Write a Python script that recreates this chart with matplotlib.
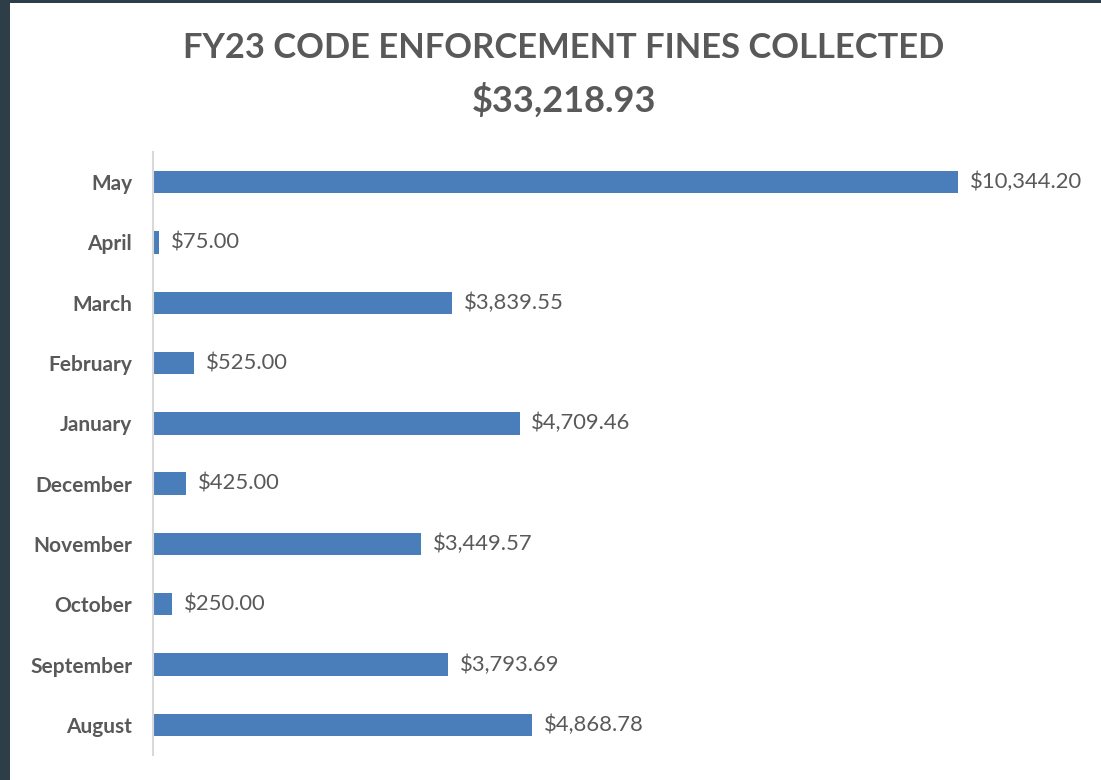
import matplotlib
matplotlib.use("Agg")
import matplotlib.pyplot as plt
from matplotlib.patches import Rectangle

months = ["May", "April", "March", "February", "January", "December",
          "November", "October", "September", "August"]
values = [10344.20, 75.00, 3839.55, 525.00, 4709.46, 425.00,
          3449.57, 250.00, 3793.69, 4868.78]
title_line1 = "FY23 CODE ENFORCEMENT FINES COLLECTED"
title_line2 = "$33,218.93"

W, H = 1101, 780
fig = plt.figure(figsize=(W / 100, H / 100), dpi=100)
fig.patch.set_facecolor("white")

# dark frame on left and top
fig.patches.append(Rectangle((0, 0), 10 / W, 1, transform=fig.transFigure,
                             facecolor="#2e3e48", edgecolor="none", zorder=0))
fig.patches.append(Rectangle((0, 1 - 3 / H), 1, 3 / H, transform=fig.transFigure,
                             facecolor="#2e3e48", edgecolor="none", zorder=0))

left, right = 153, 1087
top, bottom = 152, 755
ax = fig.add_axes([left / W, 1 - bottom / H, (right - left) / W, (bottom - top) / H])
ax.set_facecolor("none")

n = len(months)
ypos = list(range(n))
ax.barh(ypos, values, height=0.37, color="#4a7ebb", zorder=2)
ax.set_ylim(n - 0.5, -0.5)
ax.set_xlim(0, 12000)

grey = "#595959"
ax.set_yticks(ypos)
ax.set_yticklabels(months, fontfamily="Lato", fontweight="bold", fontsize=15, color=grey)
ax.tick_params(axis="y", length=0, pad=15)
ax.set_xticks([])
for s in ["top", "right", "bottom"]:
    ax.spines[s].set_visible(False)
ax.spines["left"].set_color("#d9d9d9")
ax.spines["left"].set_linewidth(1.5)

for y, v in zip(ypos, values):
    ax.text(v + 150, y, f"${v:,.2f}", va="center", ha="left",
            fontfamily="Lato", fontsize=15.8, color=grey)

fig.text(564 / W, 1 - 48 / H, title_line1, ha="center", va="center",
         fontfamily="Lato", fontweight="bold", fontsize=24.8, color=grey)
fig.text(564 / W, 1 - 100 / H, title_line2, ha="center", va="center",
         fontfamily="Lato", fontweight="bold", fontsize=26, color=grey)

fig.savefig("out.png", dpi=100, facecolor="white")
